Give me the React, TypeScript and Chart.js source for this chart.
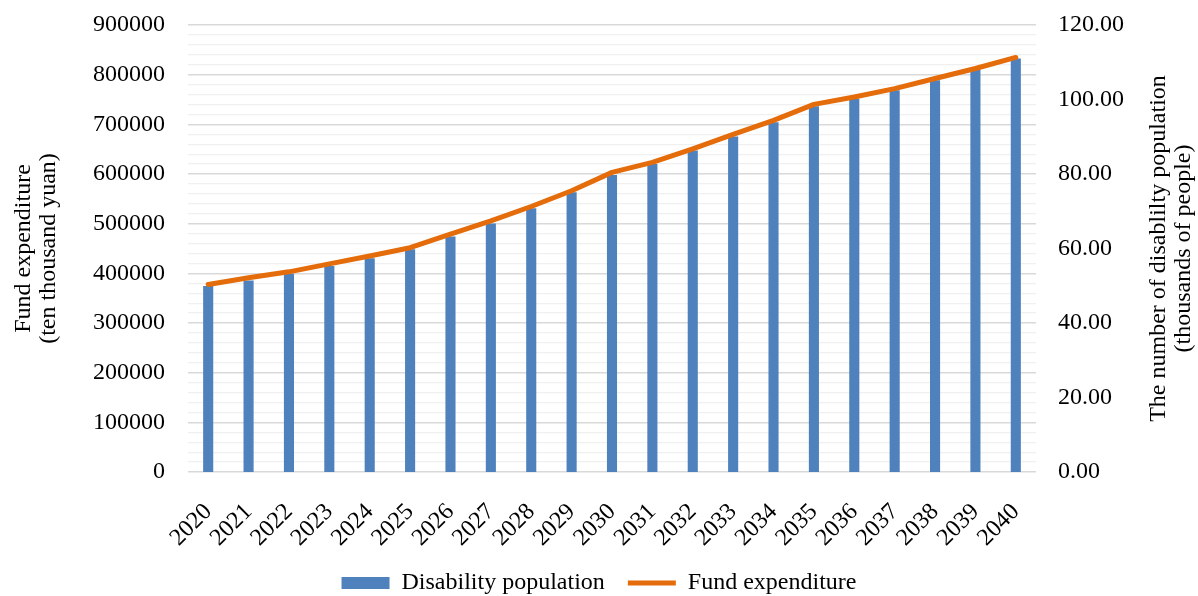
import React, { useEffect, useRef } from "react";
import { Chart, registerables } from "chart.js";

Chart.register(...registerables);

const years = [
  "2020", "2021", "2022", "2023", "2024", "2025", "2026", "2027", "2028", "2029", "2030",
  "2031", "2032", "2033", "2034", "2035", "2036", "2037", "2038", "2039", "2040",
];

// thousands of people (right axis)
const disabilityPopulation = [
  49.9, 51.4, 53.2, 55.3, 57.4, 59.8, 63.2, 66.7, 70.8, 75.1, 79.7,
  82.7, 86.3, 90.1, 93.9, 98.2, 100.2, 102.5, 105.2, 107.9, 111.0,
];

// ten thousand yuan (left axis)
const fundExpenditure = [
  377600, 391000, 403000, 419000, 435000, 451600, 478700, 505600, 534600, 566300, 603300,
  623500, 650600, 679600, 707900, 740200, 755000, 772000, 792200, 812400, 834700,
];

const leftTitle = ["Fund expenditure", "(ten thousand yuan)"];
const rightTitle = ["The number of disablilty population", "(thousands of people)"];
const barLabel = "Disability population";
const lineLabel = "Fund expenditure";

const FONT = '"Liberation Serif", "Times New Roman", serif';
const BLUE = "#4F81BD";
const ORANGE = "#E46C0A";

const axisTitlePlugin = {
  id: "axisTitlePlugin",
  afterDraw(chart: any) {
    const { ctx, chartArea, width } = chart;
    const cy = (chartArea.top + chartArea.bottom) / 2;
    ctx.save();
    ctx.font = `24px ${FONT}`;
    ctx.fillStyle = "#000";
    ctx.textAlign = "center";
    ctx.textBaseline = "middle";
    const leftX = [24, 49];
    leftTitle.forEach((t, i) => {
      ctx.save();
      ctx.translate(leftX[i], cy);
      ctx.rotate(-Math.PI / 2);
      ctx.fillText(t, 0, 0);
      ctx.restore();
    });
    const rightX = [width - 39, width - 14];
    rightTitle.forEach((t, i) => {
      ctx.save();
      ctx.translate(rightX[i], cy);
      ctx.rotate(-Math.PI / 2);
      ctx.fillText(t, 0, 0);
      ctx.restore();
    });
    ctx.restore();
  },
};

export default function App() {
  const canvasRef = useRef<HTMLCanvasElement | null>(null);

  useEffect(() => {
    document.body.style.margin = "0";
    const canvas = canvasRef.current;
    if (!canvas) return;
    const chart = new Chart(canvas, {
      type: "bar",
      data: {
        labels: years,
        datasets: [
          {
            type: "line",
            label: lineLabel,
            data: fundExpenditure,
            yAxisID: "y",
            borderColor: ORANGE,
            backgroundColor: ORANGE,
            borderWidth: 5,
            pointRadius: 0,
            tension: 0,
            borderCapStyle: "round",
            borderJoinStyle: "round",
          } as any,
          {
            type: "bar",
            label: barLabel,
            data: disabilityPopulation,
            yAxisID: "y1",
            backgroundColor: BLUE,
            borderWidth: 0,
            barPercentage: 0.25,
            categoryPercentage: 1,
          } as any,
        ],
      },
      options: {
        responsive: false,
        animation: false,
        layout: { padding: { top: 25, bottom: 0, left: 0, right: 0 } },
        plugins: {
          tooltip: { enabled: false },
          legend: {
            position: "bottom",
            maxHeight: 48,
            labels: {
              color: "#000",
              font: { family: FONT, size: 24 },
              usePointStyle: true,
              pointStyleWidth: 48,
              boxHeight: 12,
              padding: 23,
              sort: (a: any, b: any) => b.datasetIndex - a.datasetIndex,
              generateLabels: (chart: any) =>
                (Chart.defaults.plugins.legend.labels as any)
                  .generateLabels(chart)
                  .map((item: any) =>
                    item.datasetIndex === 1
                      ? { ...item, pointStyle: "rect", fillStyle: BLUE, strokeStyle: BLUE, lineWidth: 0 }
                      : { ...item, pointStyle: "line", fillStyle: ORANGE, strokeStyle: ORANGE, lineWidth: 5 }
                  ),
            },
          },
        },
        scales: {
          x: {
            offset: true,
            grid: { display: false },
            border: { display: false },
            ticks: {
              color: "#000",
              font: { family: FONT, size: 24 },
              minRotation: 45,
              maxRotation: 45,
              autoSkip: false,
              padding: 18,
            },
            afterFit: (scale: any) => {
              scale.height = 76;
            },
          },
          y: {
            position: "left",
            min: 0,
            max: 900000,
            border: { display: false },
            grid: {
              drawTicks: false,
              color: (ctx: any) => (ctx.tick && ctx.tick.value % 100000 === 0 ? "#D9D9D9" : "#F0F0F0"),
              lineWidth: (ctx: any) => (ctx.tick && ctx.tick.value % 100000 === 0 ? 1.5 : 1.2),
            },
            ticks: {
              stepSize: 20000,
              maxTicksLimit: 100,
              autoSkip: false,
              color: "#000",
              font: { family: FONT, size: 24 },
              padding: 23,
              callback: (v: any) => (Number(v) % 100000 === 0 ? String(v) : ""),
            },
            afterFit: (scale: any) => {
              scale.width = 188;
              scale.paddingTop = 0;
              scale.paddingBottom = 0;
            },
          },
          y1: {
            position: "right",
            min: 0,
            max: 120,
            border: { display: false },
            grid: { display: false, drawTicks: false },
            ticks: {
              stepSize: 20,
              color: "#000",
              font: { family: FONT, size: 24 },
              padding: 22,
              callback: (v: any) => Number(v).toFixed(2),
            },
            afterFit: (scale: any) => {
              scale.width = 162;
              scale.paddingTop = 0;
              scale.paddingBottom = 0;
            },
          },
        },
      } as any,
      plugins: [axisTitlePlugin],
    });
    return () => chart.destroy();
  }, []);

  return (
    <div style={{ width: 1198, height: 596 }}>
      <canvas ref={canvasRef} width={1198} height={596} />
    </div>
  );
}
